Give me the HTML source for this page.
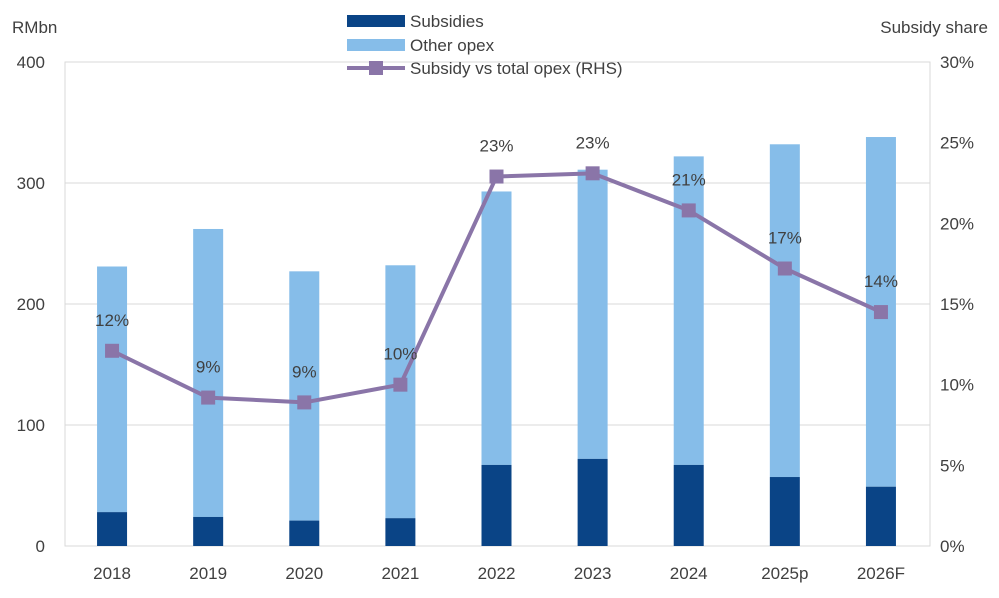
<!DOCTYPE html>
<html><head><meta charset="utf-8"><style>
body{margin:0;background:#fff;font-family:"Liberation Sans",sans-serif}
svg text{font-family:"Liberation Sans",sans-serif;fill:#404040}
</style></head><body>
<svg id="c" width="999" height="593"></svg>
<script>
const categories=["2018","2019","2020","2021","2022","2023","2024","2025p","2026F"];
const totalOpex=[231,262,227,232,293,311,322,332,338];
const subsidies=[28,24,21,23,67,72,67,57,49];
const subsidyShare=[12.1,9.2,8.9,10.0,22.9,23.1,20.8,17.2,14.5];
const shareLabels=["12%","9%","9%","10%","23%","23%","21%","17%","14%"];
const leftTicks=[0,100,200,300,400];
const rightTicks=[0,5,10,15,20,25,30];
const NS="http://www.w3.org/2000/svg";
const svg=document.getElementById('c');
function mk(t,a,txt){const e=document.createElementNS(NS,t);for(const k in a)e.setAttribute(k,a[k]);if(txt!=null)e.textContent=txt;svg.appendChild(e);return e;}
const L=65,R=930,T=62,B=546;
const y=v=>B-(v/400)*(B-T);
const yr=v=>B-(v/30)*(B-T);
const step=(R-L)/categories.length;
const x=i=>L+step*(i+0.5)-1;
leftTicks.forEach(v=>{
 if(v>0){const g=mk('line',{x1:L,x2:R,y1:y(v),y2:y(v),stroke:'#d9d9d9','stroke-width':1});
 
 }
 const t=mk('text',{x:L-20,y:y(v)+6,'text-anchor':'end','font-size':17},v);
 
 
});
const fr=mk('rect',{x:L,y:T,width:R-L,height:B-T,fill:'none',stroke:'#d9d9d9'});


rightTicks.forEach(v=>{
 const t=mk('text',{x:R+10,y:yr(v)+6,'font-size':17},v+'%');
 
 
});
categories.forEach((c,i)=>{
 const b1=mk('rect',{x:x(i)-15,y:y(totalOpex[i]),width:30,height:y(subsidies[i])-y(totalOpex[i]),fill:'#86bde9'});
 
 
 const b2=mk('rect',{x:x(i)-15,y:y(subsidies[i]),width:30,height:B-y(subsidies[i]),fill:'#0a4486'});
 
 
 const t=mk('text',{x:x(i),y:B+33,'text-anchor':'middle','font-size':17},c);
 
 
});
const pl=mk('polyline',{points:subsidyShare.map((v,i)=>x(i)+','+yr(v)).join(' '),fill:'none',stroke:'#8a75a8','stroke-width':4,'stroke-linejoin':'round'});


subsidyShare.forEach((v,i)=>{
 const m=mk('rect',{x:x(i)-7,y:yr(v)-7,width:14,height:14,fill:'#8a75a8'});
 
 
 const t=mk('text',{x:x(i),y:yr(v)-25,'text-anchor':'middle','font-size':17},shareLabels[i]);
 
 
});
const a1=mk('text',{x:12,y:33,'font-size':17},'RMbn');


const a2=mk('text',{x:988,y:33,'text-anchor':'end','font-size':17},'Subsidy share');


const l1=mk('rect',{x:347,y:15,width:58,height:12,fill:'#0a4486'});


const lt1=mk('text',{x:410,y:27,'font-size':17},'Subsidies');


const l2=mk('rect',{x:347,y:39,width:58,height:12,fill:'#86bde9'});


const lt2=mk('text',{x:410,y:51,'font-size':17},'Other opex');


const l3=mk('line',{x1:347,x2:405,y1:68,y2:68,stroke:'#8a75a8','stroke-width':4});


const l4=mk('rect',{x:369,y:61,width:14,height:14,fill:'#8a75a8'});


const lt3=mk('text',{x:410,y:74,'font-size':17},'Subsidy vs total opex (RHS)');


</script>
</body></html>
